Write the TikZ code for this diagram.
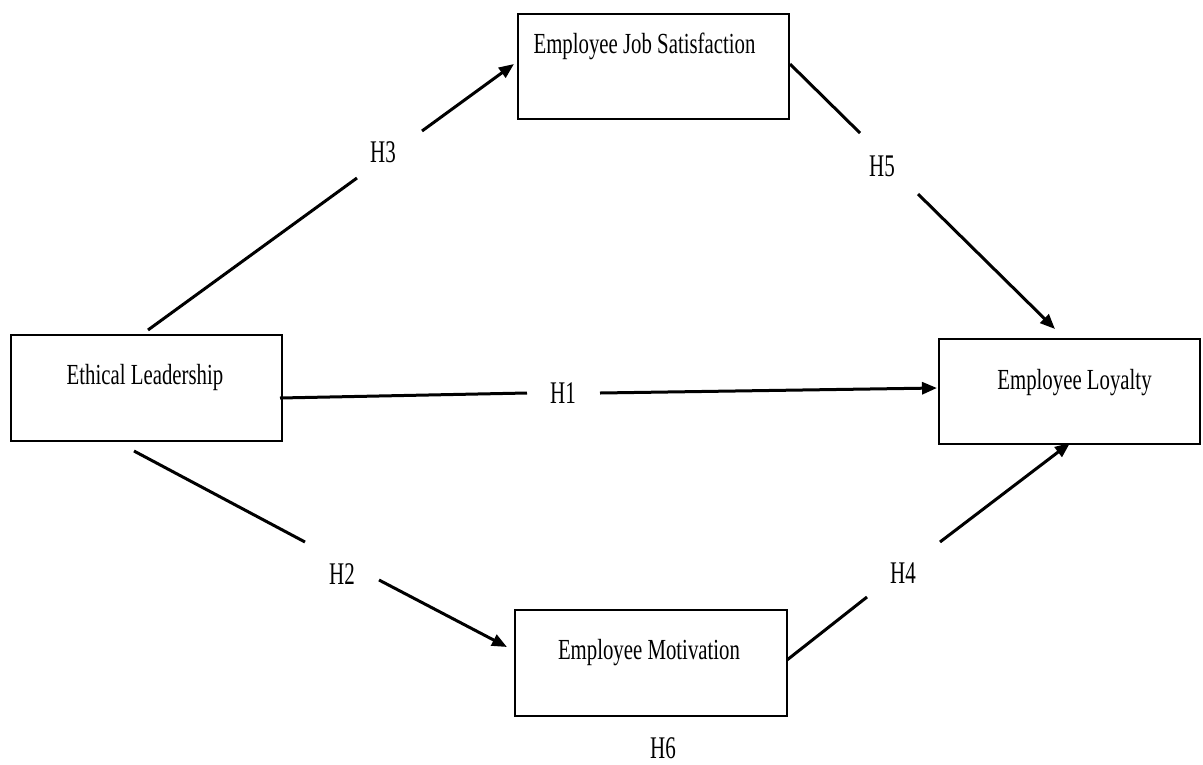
\documentclass[tikz,border=0pt]{standalone}
\usepackage{fontspec}
\setmainfont{Liberation Serif}
\usetikzlibrary{arrows.meta}
\newcommand\boxtxt[3]{\raisebox{#2}[0pt][0pt]{\makebox[0pt]{\kern#1\scalebox{1}[1.4]{#3}\kern-#1}}}
\newcommand\hlab[1]{\scalebox{1}[1.5]{#1}}
\begin{document}
\begin{tikzpicture}[x=1pt,y=-1pt,
  varbox/.style={draw=black, line width=1.6pt, inner sep=0pt, outer sep=0pt,
    font=\fontsize{20.8}{25}\selectfont},
  hyp/.style={inner sep=0pt, font=\fontsize{21}{25}\selectfont},
  link/.style={line width=3pt, draw=black},
  linkarr/.style={link, -{Triangle[length=15pt,width=12pt]}}]
\fill[white] (0,0) rectangle (1203,764);
\useasboundingbox (0,0) rectangle (1203,764);
% boxes
\node[varbox, minimum width=271pt, minimum height=105pt] (js) at (653.5,66.5)
  {\boxtxt{-9pt}{13.5pt}{Employee Job Satisfaction}};
\node[varbox, minimum width=271pt, minimum height=106pt] (el) at (146.5,388)
  {\boxtxt{-1.5pt}{4pt}{Ethical Leadership}};
\node[varbox, minimum width=261pt, minimum height=105pt] (lo) at (1069.5,391.5)
  {\boxtxt{5pt}{2.5pt}{Employee Loyalty}};
\node[varbox, minimum width=272pt, minimum height=106pt] (mo) at (651,663)
  {\boxtxt{-2pt}{4pt}{Employee Motivation}};
% hypothesis labels
\node[hyp] (h1) at (563,393) {\hlab{H1}};
\node[hyp] (h2) at (342,574) {\hlab{H2}};
\node[hyp] (h3) at (383,152) {\hlab{H3}};
\node[hyp] (h4) at (903,573) {\hlab{H4}};
\node[hyp] (h5) at (882,166) {\hlab{H5}};
\node[hyp] (h6) at (663,748) {\hlab{H6}};
% connector end points
\coordinate (h3s) at (148,330); \coordinate (h3a) at (357,178);
\coordinate (h3b) at (422,131); \coordinate (h3e) at (514,64);
\coordinate (h5s) at (790,64);  \coordinate (h5a) at (860,133);
\coordinate (h5b) at (918,194); \coordinate (h5e) at (1055,329);
\coordinate (h1s) at (280,398); \coordinate (h1a) at (527,393);
\coordinate (h1b) at (600,393); \coordinate (h1e) at (937,388);
\coordinate (h2s) at (134,451); \coordinate (h2a) at (305,542);
\coordinate (h2b) at (379,580); \coordinate (h2e) at (507,647);
\coordinate (h4s) at (787,660); \coordinate (h4a) at (867,597);
\coordinate (h4b) at (940,542); \coordinate (h4e) at (1070,443);
% connectors
\draw[link] (h3s) -- (h3a);
\draw[linkarr] (h3b) -- (h3e);
\draw[link] (h5s) -- (h5a);
\draw[linkarr] (h5b) -- (h5e);
\draw[link] (h1s) -- (h1a);
\draw[linkarr] (h1b) -- (h1e);
\draw[link] (h2s) -- (h2a);
\draw[linkarr] (h2b) -- (h2e);
\draw[link] (h4s) -- (h4a);
\draw[linkarr] (h4b) -- (h4e);
\end{tikzpicture}
\end{document}
